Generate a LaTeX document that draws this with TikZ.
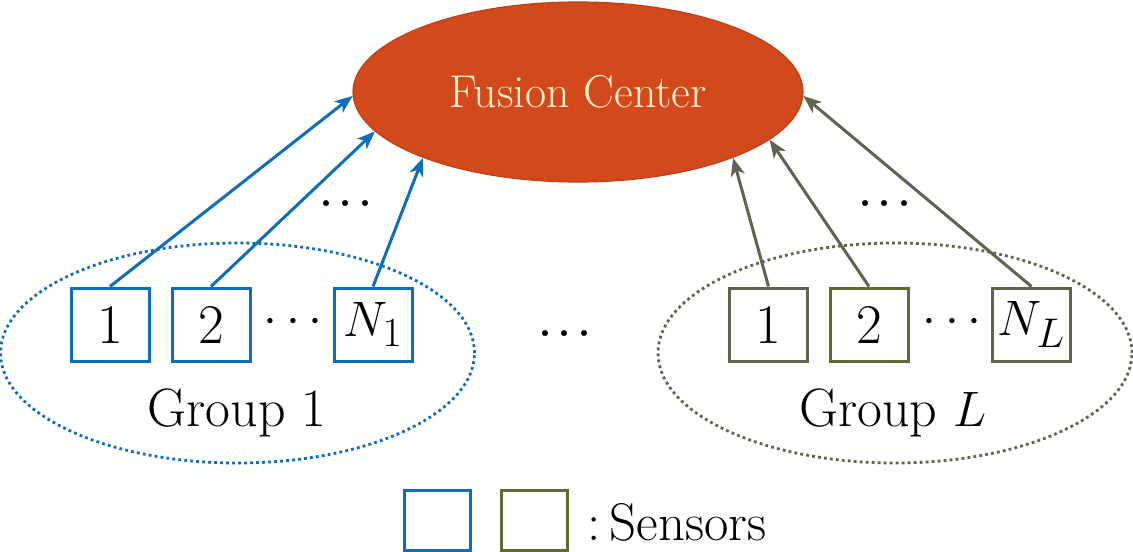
\documentclass[tikz,border=0pt]{standalone}
\usepackage[no-math]{fontspec}
\usetikzlibrary{shapes.geometric,arrows.meta}
\definecolor{sblue}{RGB}{16,110,185}
\definecolor{solive}{RGB}{96,100,78}
\definecolor{solivebox}{RGB}{100,106,52}
\definecolor{fcfill}{RGB}{210,74,28}
\definecolor{fcdraw}{RGB}{190,64,24}
\definecolor{fctext}{RGB}{255,240,205}
\tikzset{
  sensor/.style={draw, line width=1.5pt, minimum width=39pt, minimum height=36.5pt, inner sep=0pt, font=\fontsize{28}{30}\selectfont},
  grp/.style={ellipse, minimum width=237pt, minimum height=110pt, inner sep=0pt, line width=1.4pt, dash pattern=on 1.4pt off 1.6pt},
  link/.style={line width=1.5pt, -{Stealth[length=9pt,width=7pt,inset=2.5pt]}},
  lbl/.style={font=\fontsize{27}{30}\selectfont},
  dots/.style={font=\fontsize{36}{40}\selectfont},
  legend/.style={draw, line width=1.5pt, minimum width=33pt, minimum height=30pt, inner sep=0pt}
}
\begin{document}
\begin{tikzpicture}[x=0.5pt,y=-0.5pt]
\useasboundingbox (0,0) rectangle (1133,551);
% Fusion center
\node[ellipse, fill=fcfill, draw=fcdraw, line width=0.6pt, minimum width=225pt, minimum height=90pt, inner sep=0pt,
      text=fctext, font=\fontsize{23}{26}\selectfont] (fc) at (578,92) {Fusion Center};
% Group 1
\node[grp, draw=sblue] (g1) at (237.5,353) {};
\node[sensor, draw=sblue] (a1) at (110,324.5) {1};
\node[sensor, draw=sblue] (a2) at (211,324.5) {2};
\node[sensor, draw=sblue] (a3) at (373,324.5) {$N_1$};
\node[lbl] (ad) at (293,322) {$\cdots$};
\node[lbl] (g1t) at (237,413) {Group 1};
% Group L
\node[grp, draw=solive] (gL) at (895,353) {};
\node[sensor, draw=solive] (b1) at (768.5,324.5) {1};
\node[sensor, draw=solivebox] (b2) at (869,324.5) {2};
\node[sensor, draw=solive] (b3) at (1031.5,324.5) {$N_L$};
\node[lbl] (bd) at (952,322) {$\cdots$};
\node[lbl] (gLt) at (893,413) {Group $L$};
% dots
\node[dots] (md) at (565,334) {.\kern1pt.\kern1pt.};
\node[dots] (ud1) at (346,204) {.\kern1pt.\kern1pt.};
\node[dots] (ud2) at (885,204) {.\kern1pt.\kern1pt.};
% links
\draw[link, sblue] (a1.north) -- (fc.181);
\draw[link, sblue] (a2.north) -- (fc.191.5);
\draw[link, sblue] (a3.north) -- (fc.203.3);
\draw[link, solive] (b1.north) -- (fc.337.6);
\draw[link, solive] (b2.north) -- (fc.346.7);
\draw[link, solive] (b3.north) -- (fc.359.2);
% legend
\node[legend, draw=sblue] (l1) at (437,520) {};
\node[legend, draw=solivebox] (l2) at (534.5,520) {};
\node[anchor=west, inner sep=0pt, font=\fontsize{26.5}{30}\selectfont] (lt) at (587,522) {:\,Sensors};
\end{tikzpicture}
\end{document}
